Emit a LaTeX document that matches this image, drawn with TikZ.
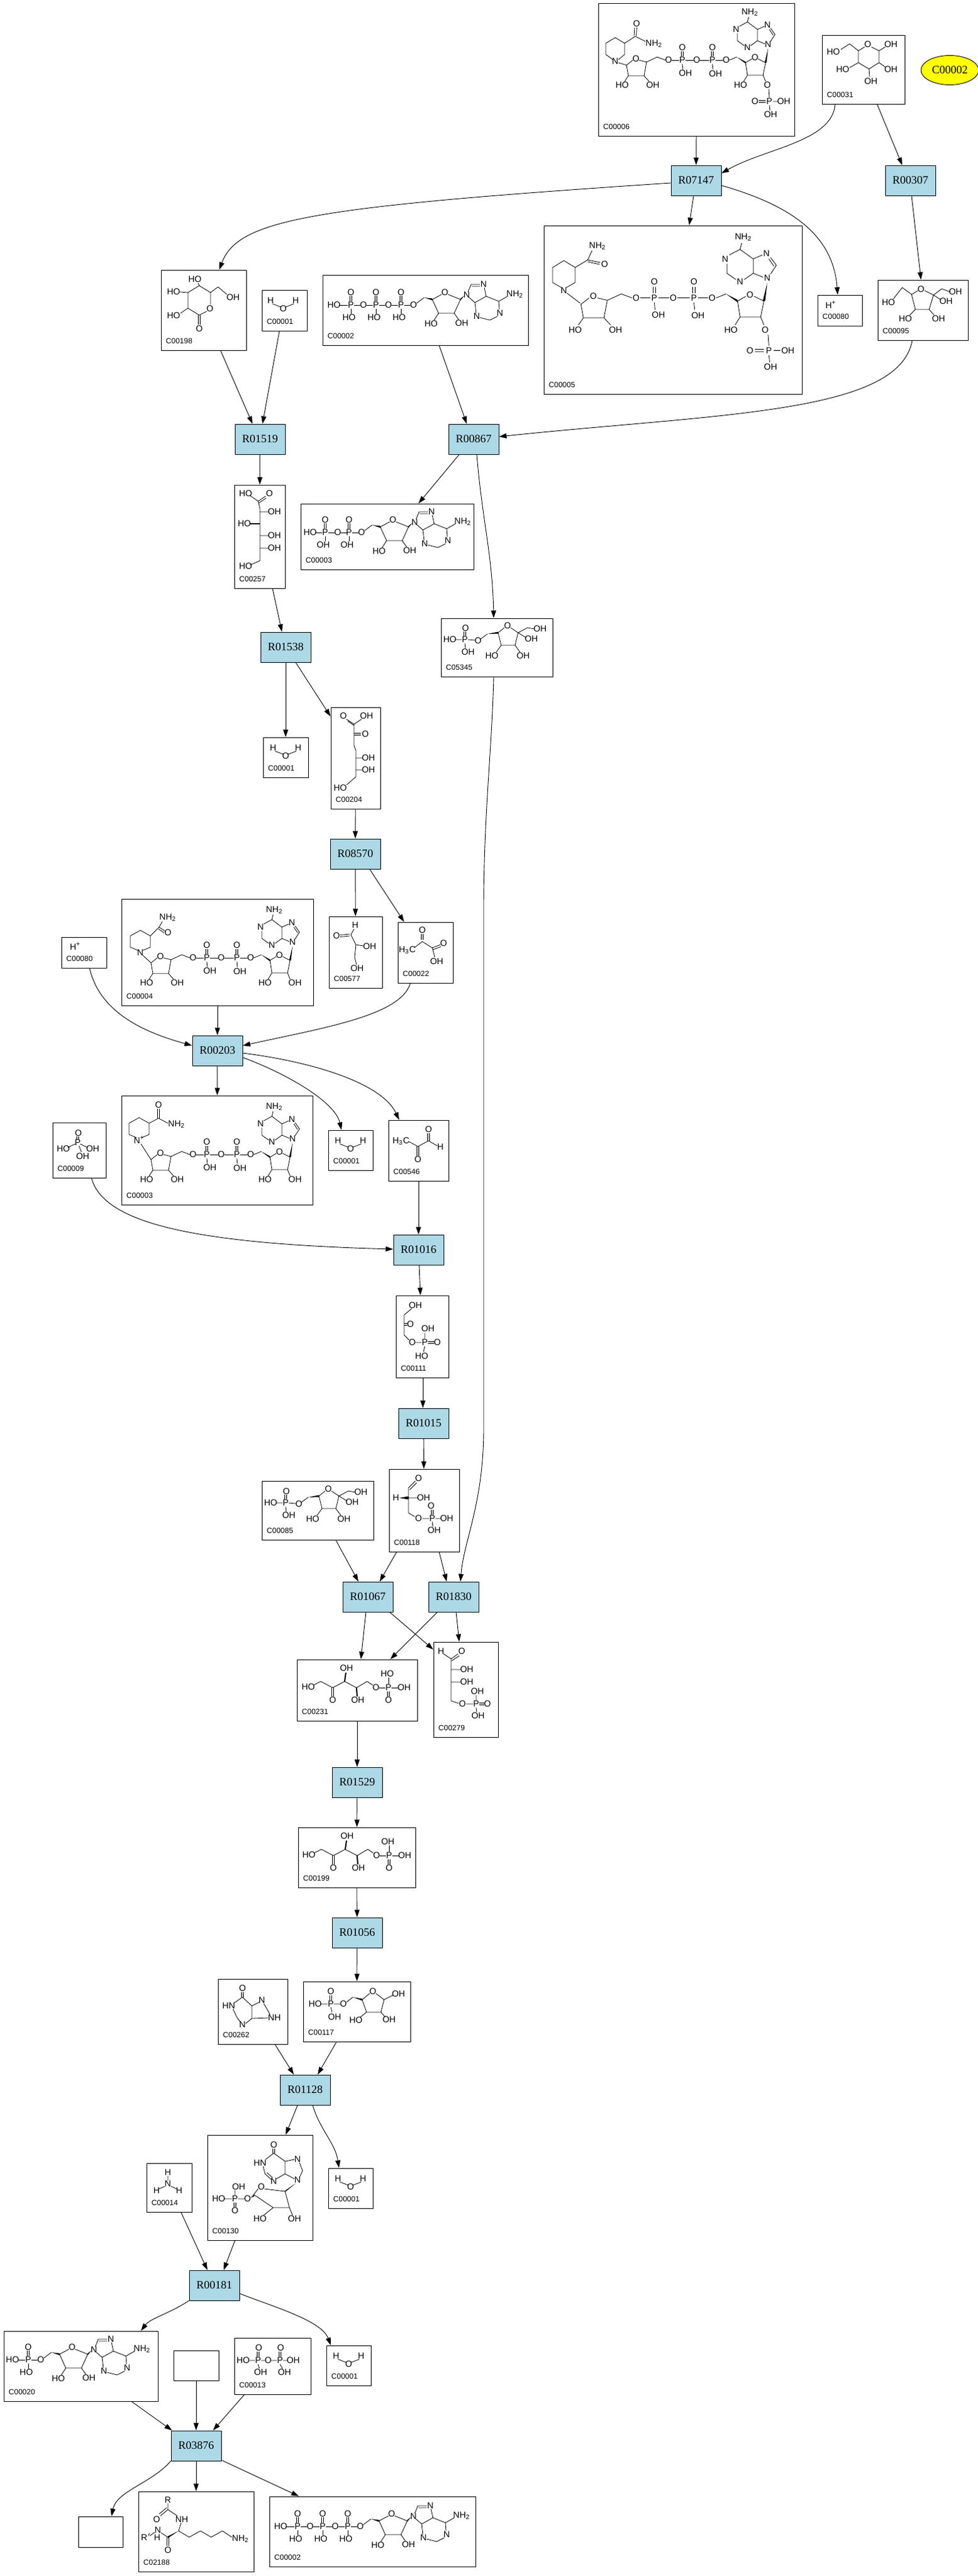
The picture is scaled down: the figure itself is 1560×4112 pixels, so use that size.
\documentclass[tikz,border=0pt]{standalone}
\usepackage{fontspec}
\usepackage{xcolor}
\usetikzlibrary{positioning}
\usetikzlibrary{arrows.meta}
\usetikzlibrary{shapes.geometric}
\usetikzlibrary{calc}
\newfontfamily\rxnfont{Liberation Serif}
\newfontfamily\chemfont{Liberation Sans}
\definecolor{rxnblue}{RGB}{173,216,230}
\definecolor{cpdyellow}{RGB}{255,255,0}

\tikzset{
  pics/water/.style={code={
    \node[atom] at (-20,-13) {H}; \node[atom] at (0,0) {O}; \node[atom] at (20,-13) {H};
    \draw[bond] (-17,-8) -- (-4,-3) (4,-3) -- (17,-8);
  }},
  pics/hplus/.style={code={
    \node[atom] at (0,0) {H\textsuperscript{+}};
  }},
  pics/pgrp/.style={code={
    \node[atom] at (0,0) {P};
    \node[atom] at (0,-20) {O};
    \draw[bond] (-1.5,-15) -- (-1.5,-6) (1.5,-15) -- (1.5,-6) (0,6) -- (0,14) (5,0) -- (15,0) (25,0) -- (35,0);
    \node[atom] at (-3,20) {#1};
    \node[atom] at (20,0) {O};
  }},
  pics/amp/.style={code={
    \node[atom] at (0,0) {P};
    \node[atom] at (0,-20) {O};
    \draw[bond] (-1.5,-15) -- (-1.5,-6) (1.5,-15) -- (1.5,-6) (0,6) -- (0,14) (5,0) -- (15,0);
    \node[atom] at (-3,20) {#1};
    \node[atom] at (20,0) {O};
    % ribose
    \draw[bond] (25,-3) -- (37,-12);
    \fill (37,-12) -- (50,-7.5) -- (50,-10.5) -- cycle;
    \draw[bond] (50,-9) -- (65,-17) (75,-17) -- (95,-9) -- (85,13) -- (60,13) -- (50,-9);
    \node[atom] at (70,-20) {O};
    \draw[bond] (60,13) -- (53,24) (85,13) -- (92,23);
    \node[atom] at (48,30) {HO};
    \node[atom] at (97,29) {OH};
    % adenine
    \fill (95,-10.5) -- (95,-7.5) -- (101,-15) -- cycle;
    \node[atom] at (105,-16) {N};
    \draw[bond] (107,-21) -- (112,-33) -- (126,-33) (113,-30) -- (126,-30) (133,-28) -- (136,-14) -- (118,-4) -- (109,-12);
    \draw[bond] (136,-14) -- (156,-6) -- (157,7) (154,18) -- (142,24) -- (126,20) (120,13) -- (118,-4) (156,-6) -- (170,-14);
    \node[atom] at (132,-33) {N};
    \node[atom] at (158,13) {N};
    \node[atom] at (121,18) {N};
    \node[atom,anchor=west] at (168,-17) {NH\textsubscript{2}};
  }},
  pics/nadcore/.style={code={
    % first ribose
    \draw[bond] (45,99) -- (55,91) (65,91) -- (77,94) -- (73,116) -- (48,116) -- (45,99);
    \node[atom] at (60,89) {O};
    \draw[bond] (48,116) -- (42,125) (73,116) -- (81,125);
    \node[atom] at (38,131) {HO};
    \node[atom] at (87,131) {OH};
    % diphosphate
    \draw[bond] (77,94) -- (94,86) -- (107,91);
    \node[atom] at (112,91) {O};
    \node[atom] at (134,91) {P};
    \node[atom] at (157,91) {O};
    \node[atom] at (182,91) {P};
    \node[atom] at (204,91) {O};
    \draw[bond] (117,91) -- (129,91) (139,91) -- (152,91) (162,91) -- (177,91) (187,91) -- (199,91);
    \node[atom] at (134,71) {O};
    \node[atom] at (182,71) {O};
    \draw[bond] (132.5,77) -- (132.5,85) (135.5,77) -- (135.5,85) (180.5,77) -- (180.5,85) (183.5,77) -- (183.5,85);
    \draw[bond] (134,97) -- (135,106) (182,97) -- (183,106);
    \node[atom] at (139,112) {OH};
    \node[atom] at (187,113) {OH};
    % second ribose
    \draw[bond] (209,91) -- (221,86);
    \fill (221,86) -- (235,93.5) -- (235,96.5) -- cycle;
    \draw[bond] (235,95) -- (245,89) (255,89) -- (267,95) -- (263,115) -- (238,115) -- (235,95);
    \node[atom] at (250,87) {O};
    \draw[bond] (238,115) -- (232,125) (263,115) -- (267,125);
    \node[atom] at (227,131) {HO};
    \node[atom,anchor=west] at (264,131) {#1};
    % adenine
    \fill (265.5,95) -- (268.5,95) -- (271,72) -- cycle;
    \node[atom] at (271,66) {N};
    \node[atom] at (270,35) {N};
    \node[atom] at (238,71) {N};
    \node[atom] at (220,42) {N};
    \draw[bond] (275,61) -- (282,50) -- (275,40) (279,51) -- (273,42) (265,37) -- (254,42) -- (254,60) -- (266,65) (254,60) -- (243,68) (233,68) -- (222,60) -- (222,48) (225,37) -- (238,30) -- (254,42) (238,30) -- (240,22);
    \node[atom] at (242,15) {NH\textsubscript{2}};
  }},
  pics/ptwo/.style={code={
    \draw[bond] (272,137) -- (273,151) (256,155.5) -- (267,155.5) (256,158.5) -- (267,158.5) (279,157) -- (287,157) (273,163) -- (274,172);
    \node[atom] at (273,157) {P}; \node[atom] at (250,157) {O};
    \node[atom] at (296,157) {OH}; \node[atom] at (275,178) {OH};
  }},
  pics/fsix/.style={code={
    \node[atom] at (0,0) {P}; \node[atom] at (1,-18) {O}; \node[atom] at (-24,0) {HO};
    \node[atom] at (21,2) {O}; \node[atom] at (5,20) {OH}; \node[atom] at (68,-22) {O};
    \node[atom] at (120,-17) {OH}; \node[atom] at (106,-1) {OH};
    \node[atom] at (43,26) {HO}; \node[atom] at (93,26) {OH};
    \draw[bond] (-1.5,-13) -- (-1.5,-6) (1.5,-13) -- (1.5,-6) (-16,0) -- (-5,0) (5,0) -- (16,1) (0,6) -- (1,14) (25,-1) -- (36,-9);
    \fill (36,-9) -- (53,-12.5) -- (53,-9.5) -- cycle;
    \draw[bond] (53,-11) -- (63,-19) (73,-19) -- (85,-11) -- (80,9) -- (58,9) -- (53,-11);
    \draw[bond] (85,-11) -- (100,-19) -- (111,-17) (85,-11) -- (98,-3) (58,9) -- (50,20) (80,9) -- (88,20);
  }},
  pics/ketop/.style={code={
    \node[atom] at (0,0) {HO}; \node[atom] at (61,-30) {OH}; \node[atom] at (39,21) {O};
    \node[atom] at (79,21) {OH}; \node[atom] at (108,1) {O}; \node[atom] at (128,1) {P};
    \node[atom] at (153,1) {OH}; \node[atom] at (126,-21) {#1}; \node[atom] at (128,21) {O};
    \draw[bond] (8,-3) -- (20,-9) -- (39,1) -- (58,-9) -- (77,1) -- (94,-9) -- (103,-3);
    \draw[bond] (37.5,1) -- (37.5,15) (40.5,1) -- (40.5,15) (113,1) -- (123,1) (133,1) -- (144,1) (128,-15) -- (128,-5) (126.5,7) -- (126.5,15) (129.5,7) -- (129.5,15);
    \draw[line width=1pt] (58,-9) -- (60,-23) (77,1) -- (78,15);
  }}
}

\begin{document}
\begin{tikzpicture}[x=0.5pt, y=-0.5pt,
    rxn/.style={draw, rectangle, fill=rxnblue, line width=0.45pt, minimum width=40pt, minimum height=24pt, inner sep=0pt, font=\rxnfont\fontsize{9}{10}\selectfont},
    cpd/.style={draw, rectangle, line width=0.45pt, inner sep=0pt},
    cid/.style={font=\chemfont\fontsize{6}{6}\selectfont, inner sep=0pt, anchor=south west, xshift=4pt, yshift=5pt},
    atom/.style={font=\chemfont\fontsize{7}{7}\selectfont, inner sep=0pt},
    bond/.style={line width=0.4pt},
    flux/.style={-{Triangle[length=6pt,width=4pt]}, line width=0.45pt}]
  \fill[white] (0,0) rectangle (1560,4112);
  \useasboundingbox (0,0) rectangle (1560,4112);

  % Reactions
  \node[rxn] (r07147) at (1111,288) {R07147};
  \node[rxn] (r00307) at (1453,288) {R00307};
  \node[rxn] (r01519) at (415,701) {R01519};
  \node[rxn] (r00867) at (756,701) {R00867};
  \node[rxn] (r01538) at (456,1033) {R01538};
  \node[rxn] (r08570) at (567,1363) {R08570};
  \node[rxn] (r00203) at (347,1677) {R00203};
  \node[rxn] (r01016) at (668,1995) {R01016};
  \node[rxn] (r01015) at (676,2272) {R01015};
  \node[rxn] (r01067) at (587,2549) {R01067};
  \node[rxn] (r01830) at (724,2549) {R01830};
  \node[rxn] (r01529) at (570,2845) {R01529};
  \node[rxn] (r01056) at (570,3085) {R01056};
  \node[rxn] (r01128) at (487,3336) {R01128};
  \node[rxn] (r00181) at (342,3648) {R00181};
  \node[rxn] (r03876) at (313,3904) {R03876};

  % Compounds
  \node[draw, ellipse, fill=cpdyellow, line width=0.45pt, minimum width=46pt, minimum height=23.5pt, inner sep=0pt, font=\rxnfont\fontsize{9}{10}\selectfont] (c00002) at (1516,112) {C00002};
  \node[cpd, minimum width=156.5pt, minimum height=106pt, label={[cid]south west:C00006}] (c00006) at (1111.5,111) {};
  \node[cpd, minimum width=66pt, minimum height=55pt, label={[cid]south west:C00031}] (c00031) at (1378,111) {};
  \node[cpd, minimum width=68pt, minimum height=64pt, label={[cid]south west:C00198}] (c00198) at (325,495) {};
  \node[cpd, minimum width=36pt, minimum height=32.5pt, label={[cid]south west:C00001}] (c00001a) at (454,495.5) {};
  \node[cpd, minimum width=164pt, minimum height=56pt, label={[cid]south west:C00002}] (c00002a) at (679,495) {};
  \node[cpd, minimum width=206pt, minimum height=134.5pt, label={[cid]south west:C00005}] (c00005) at (1074,494.5) {};
  \node[cpd, minimum width=35.5pt, minimum height=24.5pt, label={[cid]south west:C00080}] (c00080a) at (1340.5,495.5) {};
  \node[cpd, minimum width=72pt, minimum height=48pt, label={[cid]south west:C00095}] (c00095) at (1473,495) {};
  \node[cpd, minimum width=40.5pt, minimum height=82.5pt, label={[cid]south west:C00257}] (c00257) at (414.5,856.5) {};
  \node[cpd, minimum width=138pt, minimum height=52.5pt, label={[cid]south west:C00003}] (c00003a) at (618,856.5) {};
  \node[cpd, minimum width=89pt, minimum height=46.5pt, label={[cid]south west:C05345}] (c05345) at (793,1033.5) {};
  \node[cpd, minimum width=36pt, minimum height=32pt, label={[cid]south west:C00001}] (c00001b) at (456,1209) {};
  \node[cpd, minimum width=39.5pt, minimum height=81pt, label={[cid]south west:C00204}] (c00204) at (567.5,1210) {};
  \node[cpd, minimum width=42.5pt, minimum height=57pt, label={[cid]south west:C00577}] (c00577) at (567.5,1520) {};
  \node[cpd, minimum width=44pt, minimum height=48.5pt, label={[cid]south west:C00022}] (c00022) at (679,1520.5) {};
  \node[cpd, minimum width=36pt, minimum height=24.5pt, label={[cid]south west:C00080}] (c00080b) at (134,1520.5) {};
  \node[cpd, minimum width=153pt, minimum height=85pt, label={[cid]south west:C00004}] (c00004) at (347,1520) {};
  \node[cpd, minimum width=152.5pt, minimum height=87pt, label={[cid]south west:C00003}] (c00003b) at (346.5,1836) {};
  \node[cpd, minimum width=42.5pt, minimum height=44pt, label={[cid]south west:C00009}] (c00009) at (126.5,1836) {};
  \node[cpd, minimum width=35.5pt, minimum height=32pt, label={[cid]south west:C00001}] (c00001c) at (559.5,1836) {};
  \node[cpd, minimum width=48pt, minimum height=48.5pt, label={[cid]south west:C00546}] (c00546) at (668,1836.5) {};
  \node[cpd, minimum width=42pt, minimum height=65.5pt, label={[cid]south west:C00111}] (c00111) at (674,2133.5) {};
  \node[cpd, minimum width=56pt, minimum height=66pt, label={[cid]south west:C00118}] (c00118) at (677,2411) {};
  \node[cpd, minimum width=89pt, minimum height=47pt, label={[cid]south west:C00085}] (c00085) at (507,2411) {};
  \node[cpd, minimum width=96pt, minimum height=49pt, label={[cid]south west:C00231}] (c00231) at (570,2698) {};
  \node[cpd, minimum width=51.5pt, minimum height=76pt, label={[cid]south west:C00279}] (c00279) at (743.5,2697) {};
  \node[cpd, minimum width=93.5pt, minimum height=48pt, label={[cid]south west:C00199}] (c00199) at (569.5,2965) {};
  \node[cpd, minimum width=55.5pt, minimum height=52pt, label={[cid]south west:C00262}] (c00262) at (403.5,3211) {};
  \node[cpd, minimum width=85.5pt, minimum height=48pt, label={[cid]south west:C00117}] (c00117) at (569.5,3211) {};
  \node[cpd, minimum width=84pt, minimum height=84pt, label={[cid]south west:C00130}] (c00130) at (415,3492) {};
  \node[cpd, minimum width=35.5pt, minimum height=32pt, label={[cid]south west:C00001}] (c00001d) at (559.5,3493) {};
  \node[cpd, minimum width=36pt, minimum height=39pt, label={[cid]south west:C00014}] (c00014) at (270,3492) {};
  \node[cpd, minimum width=123pt, minimum height=56pt, label={[cid]south west:C00020}] (c00020) at (129,3777) {};
  \node[cpd, minimum width=36pt, minimum height=24pt] (cnone1) at (313,3776) {};
  \node[cpd, minimum width=61pt, minimum height=45pt, label={[cid]south west:C00013}] (c00013) at (435,3777) {};
  \node[cpd, minimum width=35.5pt, minimum height=32pt, label={[cid]south west:C00001}] (c00001e) at (556.5,3776) {};
  \node[cpd, minimum width=35.5pt, minimum height=24.5pt] (cnone2) at (160.5,4041.5) {};
  \node[cpd, minimum width=92pt, minimum height=64pt, label={[cid]south west:C02188}] (c02188) at (313,4041) {};
  \node[cpd, minimum width=164.5pt, minimum height=56pt, label={[cid]south west:C00002}] (c00002b) at (594.5,4041) {};

  % Structures inside the boxes
  \pic at (452,493) {water};
  \pic at (456,1207) {water};
  \pic at (559.5,1834) {water};
  \pic at (559.5,3491) {water};
  \pic at (556.5,3774) {water};
  \pic at (1326,487) {hplus};
  \pic at (120,1511) {hplus};
  % ATP, ADP, AMP
  \node[atom] at (533,487) {HO}; \draw[bond] (541,487) -- (555,487);
  \pic at (560,487) {pgrp=HO}; \pic at (600,487) {pgrp=HO}; \pic at (640,487) {amp=HO};
  \node[atom] at (448,4033) {HO}; \draw[bond] (456,4033) -- (470,4033);
  \pic at (475,4033) {pgrp=HO}; \pic at (515,4033) {pgrp=HO}; \pic at (555,4033) {amp=HO};
  \node[atom] at (495,850) {HO}; \draw[bond] (503,850) -- (514,850);
  \pic at (519,850) {pgrp=OH}; \pic at (557,850) {amp=OH};
  \node[atom] at (20,3767) {HO}; \draw[bond] (28,3767) -- (40,3767);
  \pic at (45,3767) {amp=HO};
  % NADP+, NADPH, NADH, NAD+
  \pic at (955,5) {nadcore=O}; \pic at (955,5) {ptwo};
  \draw[bond] (978,95) -- (967,87) -- (967,69) -- (982,60) -- (997,69) -- (997,87) -- (987,95) (997,69) -- (1014,58) -- (1030,66) (1012,57) -- (1013,44) (1015.5,57) -- (1016.5,44) (987,100) -- (1000,104);
  \node[atom] at (982,98) {N}; \node[atom] at (1016,38) {O}; \node[atom,anchor=west] at (1030,70) {NH\textsubscript{2}};
  \pic[xscale=1.316, yscale=1.27] at (868,360) {nadcore=O};
  \pic[xscale=1.316, yscale=1.27] at (868,360) {ptwo};
  \draw[bond] (896,459) -- (882,451) -- (882,427) -- (900,416) -- (918,427) -- (918,451) -- (904,459) (918,427) -- (938,415) -- (945,400) (938,415) -- (958,419) (938,418) -- (957,422) (905,468) -- (926,484);
  \node[atom] at (900,464) {N}; \node[atom] at (965,422) {O}; \node[atom,anchor=west] at (940,393) {NH\textsubscript{2}};
  \pic at (196,1438) {nadcore=OH};
  \draw[bond] (220,1517) -- (208,1512) -- (208,1494) -- (224,1485) -- (240,1494) -- (240,1512) -- (228,1517) (240,1494) -- (254,1480) -- (259,1471) (254,1480) -- (263,1486) (253,1483) -- (262,1489) (228,1525) -- (241,1537);
  \node[atom] at (224,1521) {N}; \node[atom] at (268,1489) {O}; \node[atom,anchor=west] at (254,1465) {NH\textsubscript{2}};
  \pic at (196,1752) {nadcore=OH};
  \draw[bond] (218,1816) -- (206,1811) -- (206,1793) -- (222,1784) -- (238,1793) -- (238,1811) -- (226,1816) (238,1793) -- (253,1785) -- (268,1793) (251.5,1785) -- (251.5,1770) (254.5,1785) -- (254.5,1770) (225,1826) -- (241,1851);
  \node[atom] at (222,1820) {N\textsuperscript{+}}; \node[atom] at (253,1764) {O}; \node[atom,anchor=west] at (268,1795) {NH\textsubscript{2}};
  % sugars and small acids
  \draw[bond] (1380,75) -- (1370,81) -- (1370,100) -- (1387,110) -- (1403,100) -- (1403,81) -- (1391,75) (1370,100) -- (1356,108) (1387,110) -- (1388,123) (1403,100) -- (1413,107) (1403,81) -- (1413,75) (1370,81) -- (1356,70) -- (1342,79);
  \node[atom] at (1385,71) {O}; \node[atom] at (1330,83) {HO}; \node[atom] at (1422,71) {OH};
  \node[atom] at (1345,111) {HO}; \node[atom] at (1422,111) {OH}; \node[atom] at (1390,130) {OH};
  \draw[bond] (1455,470) -- (1465,464) (1476,464) -- (1490,471) -- (1483,494) -- (1461,494) -- (1455,470) (1490,471) -- (1503,461) -- (1517,466) (1490,471) -- (1501,478) (1461,494) -- (1452,503) (1483,494) -- (1491,503) (1455,470) -- (1440,459) -- (1426,477);
  \node[atom] at (1470,462) {O}; \node[atom] at (1525,466) {OH}; \node[atom] at (1510,481) {OH};
  \node[atom] at (1418,483) {HO}; \node[atom] at (1445,509) {HO}; \node[atom] at (1498,509) {OH};
  \draw[bond] (318,456) -- (336,467) -- (336,486) (330,497) -- (318,503) -- (300,492) -- (300,467) -- (318,456) (318,456) -- (316,452) (300,467) -- (287,466) (336,467) -- (348,458) -- (362,470) (300,492) -- (288,500) (316.5,503) -- (316.5,518) (319.5,503) -- (319.5,518);
  \node[atom] at (311,446) {HO}; \node[atom] at (277,466) {HO}; \node[atom] at (372,475) {OH};
  \node[atom] at (277,504) {HO}; \node[atom] at (335,493) {O}; \node[atom] at (318,525) {O};
  \draw[bond] (399,791) -- (412,800) -- (424,792) (413,803) -- (425,795) (412,800) -- (415,812) -- (415,895) -- (399,902) (415,817) -- (429,817) (415,855) -- (429,855) (415,875) -- (429,875);
  \draw[line width=1pt] (415,836) -- (399,836);
  \node[atom] at (392,788) {HO}; \node[atom] at (430,788) {O}; \node[atom] at (438,817) {OH}; \node[atom] at (390,836) {HO};
  \node[atom] at (438,855) {OH}; \node[atom] at (438,875) {OH}; \node[atom] at (392,904) {HO};
  \draw[bond] (553,1148) -- (565,1156) -- (577,1148) (555,1151) -- (565,1158) (565,1156) -- (565,1190) -- (568,1198) -- (568,1240) -- (553,1253) (565,1170.5) -- (576,1170.5) (565,1173.5) -- (576,1173.5) (568,1210) -- (578,1210) (568,1229) -- (578,1229);
  \node[atom] at (548,1143) {O}; \node[atom] at (585,1143) {OH}; \node[atom] at (583,1172) {O};
  \node[atom] at (588,1210) {OH}; \node[atom] at (588,1229) {OH}; \node[atom] at (543,1258) {HO};
  \pic at (742,1021) {fsix};
  \pic at (456,2399) {fsix};
  \draw[bond] (560,1492) -- (565,1483) (543,1492.5) -- (558,1491) (543,1495.5) -- (558,1494) (560,1492) -- (568,1508) -- (566,1528) -- (569,1540) (568,1508) -- (580,1510);
  \node[atom] at (567,1477) {H}; \node[atom] at (537,1494) {O}; \node[atom] at (590,1511) {OH}; \node[atom] at (570,1546) {OH};
  \draw[bond] (672.5,1491) -- (672.5,1500) (675.5,1491) -- (675.5,1500) (661,1513) -- (674,1503) -- (690,1513) -- (703,1508) (691,1516) -- (704,1511) (690,1513) -- (694,1528);
  \node[atom] at (674,1485) {O}; \node[atom] at (650,1517) {H\textsubscript{3}C}; \node[atom] at (708,1506) {O}; \node[atom] at (697,1535) {OH};
  \draw[bond] (122.5,1814) -- (122.5,1819) (125.5,1814) -- (125.5,1819) (108,1832) -- (120,1826) (128,1826) -- (140,1832) (126,1829) -- (130,1839);
  \node[atom] at (125,1809) {O}; \node[atom] at (124,1824) {P}; \node[atom] at (101,1834) {HO};
  \node[atom] at (148,1834) {OH}; \node[atom] at (132,1846) {OH};
  \draw[bond] (652,1822) -- (667,1830) -- (684,1821) -- (698,1829) (665.5,1830) -- (665.5,1845) (668.5,1830) -- (668.5,1845) (682.5,1821) -- (682.5,1809) (685.5,1821) -- (685.5,1809);
  \node[atom] at (684,1803) {O}; \node[atom] at (640,1822) {H\textsubscript{3}C}; \node[atom] at (703,1831) {H}; \node[atom] at (667,1851) {O};
  \draw[bond] (657,2089) -- (645,2099) -- (645,2131) -- (653,2139) (645,2112.5) -- (650,2112.5) (645,2115.5) -- (650,2115.5) (663,2143) -- (673,2143) (678,2128) -- (678,2137) (683,2141.5) -- (693,2141.5) (683,2144.5) -- (693,2144.5) (678,2149) -- (676,2158);
  \node[atom] at (663,2084) {OH}; \node[atom] at (655,2114) {O}; \node[atom] at (683,2121) {OH}; \node[atom] at (658,2143) {O};
  \node[atom] at (678,2143) {P}; \node[atom] at (698,2143) {O}; \node[atom] at (673,2165) {HO};
  \draw[bond] (663,2364) -- (652,2375) (665,2367) -- (654,2378) (652,2375) -- (652,2415) -- (662,2421) (652,2391) -- (668,2391) (674,2424) -- (685,2424) (688.5,2410) -- (688.5,2418) (691.5,2410) -- (691.5,2418) (695,2424) -- (704,2424) (690,2429) -- (691,2437);
  \fill (637,2391) -- (652,2388.5) -- (652,2393.5) -- cycle;
  \node[atom] at (668,2360) {O}; \node[atom] at (632,2391) {H}; \node[atom] at (676,2391) {OH}; \node[atom] at (688,2404) {O};
  \node[atom] at (668,2424) {O}; \node[atom] at (690,2424) {P}; \node[atom] at (713,2424) {OH}; \node[atom] at (693,2443) {OH};
  \pic at (492,2693) {ketop=HO};
  \pic at (493,2961) {ketop=OH};
  \draw[bond] (708,2640) -- (720,2648) -- (731,2640) (721,2651) -- (733,2643) (720,2648) -- (720,2715) -- (732,2719) (720,2665) -- (736,2665) (720,2685) -- (736,2685) (744,2720) -- (755,2720) (760,2706) -- (760,2714) (765,2718.5) -- (773,2718.5) (765,2721.5) -- (773,2721.5) (760,2726) -- (761,2733);
  \node[atom] at (704,2636) {H}; \node[atom] at (737,2636) {O}; \node[atom] at (745,2665) {OH}; \node[atom] at (745,2685) {OH};
  \node[atom] at (762,2700) {OH}; \node[atom] at (738,2720) {O}; \node[atom] at (760,2720) {P}; \node[atom] at (778,2720) {O}; \node[atom] at (763,2739) {OH};
  % purines and the rest
  \draw[bond] (385.5,3180) -- (385.5,3188) (388.5,3180) -- (388.5,3188) (387,3188) -- (374,3197) (372,3207) -- (378,3220) -- (383,3227) (392,3230) -- (402,3222) -- (402,3202) -- (387,3188) (402,3202) -- (414,3196) (421,3198) -- (429,3212) -- (431,3216) (402,3222) -- (428,3221);
  \node[atom] at (387,3174) {O}; \node[atom] at (365,3202) {HN}; \node[atom] at (418,3193) {N}; \node[atom] at (438,3221) {NH}; \node[atom] at (387,3232) {N};
  \draw[bond] (526.5,3185) -- (526.5,3193) (529.5,3185) -- (529.5,3193) (511,3199) -- (523,3199) (533,3199) -- (543,3199) (528,3204) -- (530,3212) (553,3196) -- (563,3188) (578,3192) -- (590,3182) (600,3182) -- (613,3192) -- (608,3212) -- (585,3212) -- (578,3192) (613,3192) -- (627,3185) (585,3212) -- (575,3220) (608,3212) -- (615,3220);
  \fill (563,3188) -- (578,3190.5) -- (578,3193.5) -- cycle;
  \node[atom] at (528,3179) {O}; \node[atom] at (503,3199) {HO}; \node[atom] at (528,3199) {P}; \node[atom] at (548,3199) {O}; \node[atom] at (534,3220) {OH};
  \node[atom] at (595,3179) {O}; \node[atom] at (636,3183) {OH}; \node[atom] at (568,3225) {HO}; \node[atom] at (621,3224) {OH};
  \draw[bond] (435.5,3430) -- (435.5,3437) (438.5,3430) -- (438.5,3437) (437,3437) -- (424,3447) (420,3458) -- (423,3470) -- (433,3479) (426,3468) -- (435,3476) (441,3478) -- (455,3470) -- (455,3450) -- (437,3437) (455,3450) -- (470,3447) (478,3452) -- (483,3465) -- (478,3476) (470,3478) -- (455,3470);
  \draw[bond] (357,3510) -- (370,3510) (380,3510) -- (390,3510) (375,3496) -- (375,3504) (373.5,3516) -- (373.5,3523) (376.5,3516) -- (376.5,3523) (405,3503) -- (412,3494) (422,3494) -- (455,3498) -- (462,3524) -- (436,3524) -- (405,3503) (436,3524) -- (421,3536) (462,3524) -- (467,3536);
  \fill (400,3508) -- (405,3503) -- (406,3506) -- cycle;
  \fill (453.5,3498) -- (456.5,3498) -- (472,3485) -- cycle;
  \node[atom] at (437,3424) {O}; \node[atom] at (415,3453) {HN}; \node[atom] at (475,3447) {N}; \node[atom] at (475,3480) {N}; \node[atom] at (437,3482) {N};
  \node[atom] at (381,3491) {OH}; \node[atom] at (349,3510) {HO}; \node[atom] at (375,3510) {P}; \node[atom] at (395,3510) {O}; \node[atom] at (375,3529) {O};
  \node[atom] at (417,3491) {O}; \node[atom] at (415,3542) {HO}; \node[atom] at (470,3542) {OH};
  \draw[bond] (268,3473) -- (268,3481) (263,3490) -- (254,3494) (273,3490) -- (282,3494);
  \node[atom] at (268,3468) {H}; \node[atom] at (268,3486) {N}; \node[atom] at (250,3497) {H}; \node[atom] at (286,3497) {H};
  \draw[bond] (398,3768) -- (407,3768) (417,3768) -- (423,3768) (433,3768) -- (442,3768) (452,3768) -- (459,3768) (410.5,3754) -- (410.5,3762) (413.5,3754) -- (413.5,3762) (445.5,3754) -- (445.5,3762) (448.5,3754) -- (448.5,3762) (412,3774) -- (414,3781) (447,3774) -- (451,3781);
  \node[atom] at (413,3748) {O}; \node[atom] at (388,3768) {HO}; \node[atom] at (412,3768) {P}; \node[atom] at (428,3768) {O}; \node[atom] at (447,3768) {P};
  \node[atom] at (468,3768) {OH}; \node[atom] at (416,3787) {OH}; \node[atom] at (454,3787) {OH}; \node[atom] at (448,3748) {O};
  \draw[bond] (268,3996) -- (268,4006) -- (283,4016) (268,4006) -- (256,4016) (266,4003) -- (254,4013) (289,4027) -- (285,4040) -- (302,4050) -- (320,4040) -- (337,4050) -- (355,4040) -- (370,4050) (266.5,4050) -- (266.5,4064) (269.5,4050) -- (269.5,4064) (268,4050) -- (257,4043) (239,4048) -- (247,4042);
  \fill (285,4040) -- (268,4048.5) -- (268,4051.5) -- cycle;
  \node[atom] at (268,3991) {R}; \node[atom] at (250,4022) {O}; \node[atom] at (290,4022) {NH}; \node[atom] at (252,4039) {N};
  \node[atom] at (251,4051) {H}; \node[atom] at (233,4050) {R\textsuperscript{$\prime$}}; \node[atom] at (268,4071) {O};
  \node[atom,anchor=west] at (370,4053) {NH\textsubscript{2}};

  % Arrows
  \draw[flux] (c00006) -- (r07147);
  \draw[flux] ($(c00031.south)+(-45,0)$) .. controls +(-5,60) and +(70,-40) .. ($(r07147.north east)+(0,13)$);
  \draw[flux] ($(c00031.south)+(22,0)$) -- ($(r00307.north)+(-13,0)$);
  \draw[flux] ($(r07147.west)+(0,4)$) .. controls +(-570,38) and +(30,-81) .. ($(c00198.north)+(25,0)$);
  \draw[flux] ($(r07147.south)+(-4,0)$) -- ($(c00005.north)+(26,0)$);
  \draw[flux] ($(r07147.east)+(0,8)$) .. controls +(119,34) and +(-7,-91) .. ($(c00080a.north)+(-3.5,0)$);
  \draw[flux] ($(r00307.south)+(2,0)$) -- ($(c00095.north)+(-3,0)$);
  \draw[flux] ($(c00095.south)+(-17,0)$) .. controls +(-21,117) and +(354,-37) .. ($(r00867.east)+(0,-4)$);
  \draw[flux] ($(c00198.south)+(27,0)$) -- ($(r01519.north)+(-12,0)$);
  \draw[flux] ($(c00001a.south)+(-8,0)$) -- ($(r01519.north)+(4,0)$);
  \draw[flux] ($(c00002a.south)+(22,0)$) -- ($(r00867.north)+(-11,0)$);
  \draw[flux] (r01519) -- (c00257);
  \draw[flux] ($(r00867.south)+(-23,0)$) -- ($(c00003a.north)+(50,0)$);
  \draw[flux] ($(r00867.south)+(5,0)$) .. controls +(8,100) and +(-2,-100) .. ($(c05345.north)+(-5,0)$);
  \draw[flux] ($(c00257.south)+(20.5,0)$) -- ($(r01538.north)+(-6,0)$);
  \draw[flux] (r01538) -- (c00001b);
  \draw[flux] ($(r01538.south)+(16,0)$) -- ($(c00204.north west)+(0,15)$);
  \draw[flux] (c00204) -- (r08570);
  \draw[flux] ($(c05345.south)+(-5,0)$) .. controls (785,1200) and (772,1300) .. (772,1450) -- (772,2280) .. controls (772,2400) and (740,2460) .. ($(r01830.north)+(11,0)$);
  \draw[flux] (r08570) -- (c00577);
  \draw[flux] ($(r08570.south)+(23,0)$) -- ($(c00022.north)+(-34,0)$);
  \draw[flux] ($(c00080b.south)+(9,0)$) .. controls +(17,75) and +(-68,-19) .. ($(r00203.west)+(0,-8)$);
  \draw[flux] (c00004) -- (r00203);
  \draw[flux] ($(c00022.south)+(-24,0)$) .. controls +(-15,51) and +(133,-29) .. ($(r00203.east)+(0,-8)$);
  \draw[flux] (r00203) -- (c00003b);
  \draw[flux] ($(r00203.east)+(0,11)$) .. controls +(73,27) and +(-10,-44) .. ($(c00001c.north)+(-14.5,0)$);
  \draw[flux] ($(r00203.east)+(0,4)$) .. controls +(113,14) and +(-27,-58) .. ($(c00546.north)+(-31,0)$);
  \draw[flux] ($(c00009.south)+(19.5,0)$) .. controls +(19,70) and +(-328,-9) .. ($(r01016.west)+(0,-1)$);
  \draw[flux] (c00546) -- (r01016);
  \draw[flux] ($(r01016.south)+(1,0)$) -- ($(c00111.north)+(-3,0)$);
  \draw[flux] ($(c00111.south)+(1,0)$) -- ($(r01015.north)+(-1,0)$);
  \draw[flux] (r01015) -- (c00118);
  \draw[flux] ($(c00085.south)+(29,0)$) -- ($(r01067.north)+(-15,0)$);
  \draw[flux] ($(c00118.south)+(-44,0)$) -- ($(r01067.north)+(19,0)$);
  \draw[flux] ($(c00118.south)+(24,0)$) -- ($(r01830.north)+(-11,0)$);
  \draw[flux] ($(r01067.south)+(-3,0)$) -- ($(c00231.north)+(6,0)$);
  \draw[flux] ($(r01067.south)+(35,0)$) -- ($(c00279.west)+(0,-64)$);
  \draw[flux] ($(r01830.south)+(-26,0)$) -- ($(c00231.north)+(53,0)$);
  \draw[flux] ($(r01830.south)+(4,0)$) -- ($(c00279.north)+(-10.5,0)$);
  \draw[flux] (c00231) -- (r01529);
  \draw[flux] (r01529) -- (c00199);
  \draw[flux] (c00199) -- (r01056);
  \draw[flux] (r01056) -- (c00117);
  \draw[flux] ($(c00262.south)+(35.5,0)$) -- ($(r01128.north)+(-18,0)$);
  \draw[flux] ($(c00117.south)+(-32.5,0)$) -- ($(r01128.north)+(20,0)$);
  \draw[flux] ($(r01128.south)+(-12,0)$) -- ($(c00130.north)+(41,0)$);
  \draw[flux] ($(r01128.south)+(12,0)$) .. controls +(12,40) and +(-6,-40) .. ($(c00001d.north)+(-18.5,0)$);
  \draw[flux] ($(c00014.south)+(19,0)$) -- ($(r00181.north)+(-11,0)$);
  \draw[flux] ($(c00130.south)+(-40,0)$) -- ($(r00181.north)+(15,0)$);
  \draw[flux] (r00181.south west) .. controls +(-30,20) and +(15,-20) .. ($(c00020.north)+(96,0)$);
  \draw[flux] ($(r00181.east)+(0,13)$) .. controls +(50,20) and +(-15,-40) .. ($(c00001e.north)+(-28.5,0)$);
  \draw[flux] ($(c00020.south)+(81,0)$) -- ($(r03876.north west)+(2,0)$);
  \draw[flux] (cnone1) -- (r03876);
  \draw[flux] ($(c00013.south)+(-45,0)$) -- ($(r03876.north)+(27,0)$);
  \draw[flux] (r03876.south west) .. controls +(-30,35) and +(8,-40) .. ($(cnone2.north)+(17.5,0)$);
  \draw[flux] (r03876) -- (c02188);
  \draw[flux] ($(r03876.south east)+(1,-1)$) -- ($(c00002b.north)+(-117.5,0)$);
\end{tikzpicture}
\end{document}
